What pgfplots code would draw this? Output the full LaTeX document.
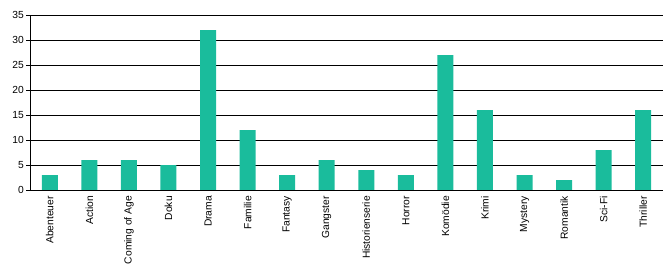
\documentclass[border=0pt]{standalone}
\usepackage{pgfplots}
\pgfplotsset{compat=1.18}
\usepackage{fontspec}
\setmainfont{Liberation Sans}
\definecolor{barc}{HTML}{1ABC9C}
\begin{document}
\begin{tikzpicture}
\path[use as bounding box] (0,0) rectangle (670bp,270bp);
\begin{axis}[
  at={(30bp,80bp)}, anchor=south west,
  scale only axis, width=633bp, height=175bp,
  xmin=-0.5, xmax=15.5, ymin=0, ymax=35,
  axis lines*=left,
  axis line style={line width=1bp, black},
  ytick={0,5,...,35},
  ymajorgrids,
  grid style={line width=1bp, black},
  xtick={0,...,15},
  xticklabels={Abenteuer,Action,Coming of Age,Doku,Drama,Familie,Fantasy,Gangster,Historienserie,Horror,Komödie,Krimi,Mystery,Romantik,Sci-Fi,Thriller},
  minor xtick={-0.5,0.5,...,15.5},
  xtick style={draw=none},
  minor tick length=4bp,
  major tick length=4bp,
  tick align=outside,
  tick style={line width=0.9bp, black},
  minor x tick style={line width=0.9bp, black},
  xticklabel style={rotate=90, anchor=east, inner sep=2bp},
  yticklabel style={inner sep=2bp},
  tick label style={font=\fontsize{10.3}{12}\selectfont},
  /pgf/number format/assume math mode=true,
  ]
\addplot[ybar, bar width=16bp, fill=barc, draw=none] coordinates {
(0,3) (1,6) (2,6) (3,5) (4,32) (5,12) (6,3) (7,6) (8,4) (9,3) (10,27) (11,16) (12,3) (13,2) (14,8) (15,16)};
\end{axis}
\end{tikzpicture}
\end{document}
